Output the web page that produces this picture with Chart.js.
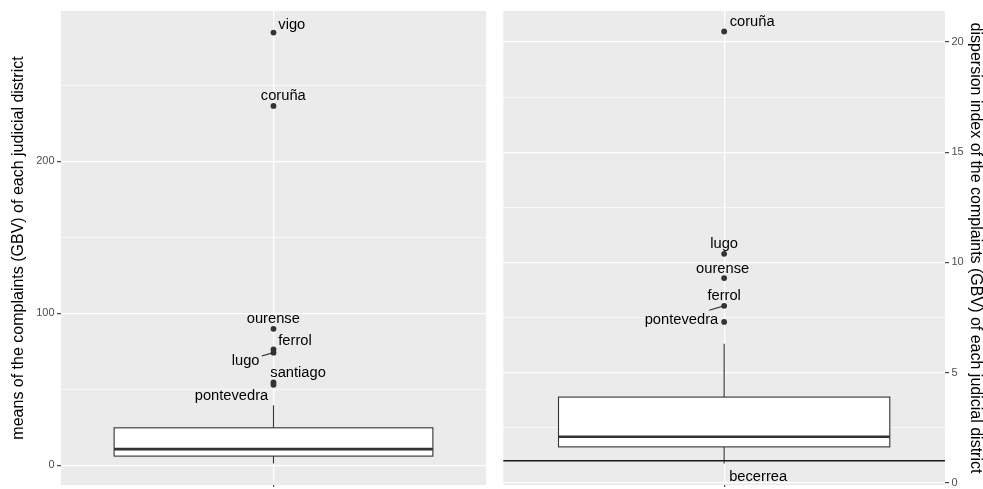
<!DOCTYPE html>
<html>
<head>
<meta charset="utf-8">
<script src="https://cdn.jsdelivr.net/npm/chart.js@4"></script>
<style>
  html, body { margin: 0; padding: 0; background: #fff; overflow: hidden; }
  #wrap { position: relative; width: 983px; height: 489px; }
  canvas { position: absolute; top: 0; }
</style>
</head>
<body>
<div id="wrap">
  <canvas id="left" width="490" height="489" style="left:0"></canvas>
  <canvas id="right" width="493" height="489" style="left:490px"></canvas>
</div>
<script>
// left panel: means of the complaints
const leftNames = ['vigo', 'coruña', 'ourense', 'ferrol', 'lugo', 'santiago', 'pontevedra'];
const leftValues = [284.6, 236.4, 89.8, 76.3, 74.1, 54.5, 53.0];
const leftStats = { lo: 1.3, q1: 6.1, med: 10.7, q3: 24.7, hi: 39.5 };
const leftTicks = [0, 100, 200];
const leftMinor = [50, 150, 250];

// right panel: dispersion index
const rightNames = ['coruña', 'lugo', 'ourense', 'ferrol', 'pontevedra', 'becerrea'];
const rightValues = [20.48, 10.39, 9.29, 8.03, 7.30, 0.87];
const rightStats = { lo: 0.87, q1: 1.63, med: 2.09, q3: 3.89, hi: 6.31 };
const rightTicks = [0, 5, 10, 15, 20];
const rightMinor = [2.5, 7.5, 12.5, 17.5];
const refValue = 1;

// label placement (pixel offsets from the point, like ggrepel did it)
const leftLabelPos = [
  { dx: 18.3, dy: -4 }, { dx: 9.8, dy: -6 }, { dx: -0.2, dy: -6.3 },
  { dx: 21.5, dy: -4.3 }, { dx: -27.9, dy: 12.4, seg: [-11.8, 3.3] },
  { dx: 24.6, dy: -6 }, { dx: -42, dy: 15 }
];
const rightLabelPos = [
  { dx: 28, dy: -5.6 }, { dx: 0, dy: -5.7 }, { dx: -1.5, dy: -5.3 },
  { dx: 0, dy: -5.6, seg: [-15, 4.4] }, { dx: -42.7, dy: 2.4 }, { dx: 34, dy: 17 }
];

const FONT = "'Liberation Sans', Arial, Helvetica, sans-serif";
Chart.defaults.font.family = FONT;
const BOX_W = 0.75;

const boxPlugin = {
  id: 'box',
  beforeDraw(chart) {
    const { ctx, chartArea: a } = chart;
    ctx.save();
    ctx.fillStyle = '#EBEBEB';
    ctx.fillRect(a.left, a.top, a.right - a.left, a.bottom - a.top);
    ctx.restore();
  },
  beforeDatasetsDraw(chart, args, opts) {
    const { ctx, chartArea: a, scales: { x, y } } = chart;
    const s = opts.stats;
    const xc = x.getPixelForValue(1);
    const xl = x.getPixelForValue(1 - BOX_W / 2);
    const xr = x.getPixelForValue(1 + BOX_W / 2);
    ctx.save();
    ctx.strokeStyle = '#333333';
    ctx.lineWidth = 1.1;
    // whiskers
    ctx.beginPath();
    ctx.moveTo(xc, y.getPixelForValue(s.q3));
    ctx.lineTo(xc, y.getPixelForValue(s.hi));
    ctx.moveTo(xc, y.getPixelForValue(s.q1));
    ctx.lineTo(xc, y.getPixelForValue(s.lo));
    ctx.stroke();
    // box
    const yt = y.getPixelForValue(s.q3), yb = y.getPixelForValue(s.q1);
    ctx.fillStyle = '#ffffff';
    ctx.fillRect(xl, yt, xr - xl, yb - yt);
    ctx.strokeRect(xl, yt, xr - xl, yb - yt);
    // median
    ctx.lineWidth = 2.6;
    ctx.beginPath();
    ctx.moveTo(xl, y.getPixelForValue(s.med));
    ctx.lineTo(xr, y.getPixelForValue(s.med));
    ctx.stroke();
    // reference line
    if (opts.ref != null) {
      const yr = y.getPixelForValue(opts.ref);
      ctx.strokeStyle = '#1a1a1a';
      ctx.lineWidth = 1.6;
      ctx.beginPath();
      ctx.moveTo(a.left, yr);
      ctx.lineTo(a.right, yr);
      ctx.stroke();
    }
    ctx.restore();
  },
  afterDatasetsDraw(chart, args, opts) {
    const { ctx, scales: { x, y } } = chart;
    ctx.save();
    ctx.font = '14.7px ' + FONT;
    ctx.textAlign = 'center';
    ctx.textBaseline = 'alphabetic';
    opts.names.forEach((name, i) => {
      const px = x.getPixelForValue(1);
      const py = y.getPixelForValue(opts.values[i]);
      const p = opts.pos[i];
      if (p.seg) {
        ctx.strokeStyle = '#333333';
        ctx.lineWidth = 1.2;
        ctx.beginPath();
        ctx.moveTo(px + p.seg[0], py + p.seg[1]);
        ctx.lineTo(px, py);
        ctx.stroke();
      }
      ctx.fillStyle = '#000000';
      ctx.fillText(name, px + p.dx, py + p.dy);
    });
    ctx.restore();
  }
};

function makePanel(id, o) {
  const allTicks = o.ticks.concat(o.minor).sort((a, b) => a - b);
  const isMajor = v => o.ticks.includes(v);
  const s = o.stats;
  return new Chart(document.getElementById(id), {
    type: 'scatter',
    data: {
      datasets: [{
        data: o.values.map(v => ({ x: 1, y: v })),
        pointRadius: ctx => {
          const v = o.values[ctx.dataIndex];
          return (v > s.hi || v < s.lo) ? 2.9 : 0;
        },
        pointBackgroundColor: '#333333',
        pointBorderWidth: 0,
        clip: false
      }]
    },
    options: {
      responsive: false,
      animation: false,
      devicePixelRatio: 1,
      layout: { padding: o.padding },
      events: [],
      plugins: {
        legend: { display: false },
        tooltip: { enabled: false },
        box: { stats: s, names: o.names, values: o.values, pos: o.pos, ref: o.ref }
      },
      scales: {
        x: {
          type: 'linear',
          min: 0.5,
          max: 1.5,
          afterBuildTicks: sc => { sc.ticks = [{ value: 1 }]; },
          afterFit: sc => { sc.height = 2; sc.paddingLeft = 0; sc.paddingRight = 0; },
          ticks: { display: false },
          grid: { color: '#ffffff', lineWidth: 1.3, tickColor: '#333333', tickLength: 2, tickWidth: 1.1 },
          border: { display: false }
        },
        y: {
          type: 'linear',
          position: o.position,
          min: o.min,
          max: o.max,
          afterBuildTicks: sc => { sc.ticks = allTicks.map(v => ({ value: v })); },
          afterFit: sc => { sc.width = o.axisWidth; sc.paddingTop = 0; sc.paddingBottom = 0; },
          ticks: {
            padding: 2.5,
            color: '#4D4D4D',
            font: { size: 11 },
            callback: v => isMajor(v) ? String(v) : ''
          },
          grid: {
            color: '#ffffff',
            lineWidth: ctx => isMajor(ctx.tick.value) ? 1.3 : 0.65,
            tickColor: ctx => isMajor(ctx.tick.value) ? '#333333' : 'rgba(0,0,0,0)',
            tickLength: 4,
            tickWidth: 1.1
          },
          border: { display: false },
          title: {
            display: true,
            text: o.title,
            color: '#000000',
            font: { size: 16 },
            padding: { top: o.titlePad, bottom: 0 }
          }
        }
      }
    },
    plugins: [boxPlugin]
  });
}

makePanel('left', {
  names: leftNames, values: leftValues, stats: leftStats, pos: leftLabelPos,
  ticks: leftTicks, minor: leftMinor, min: -12.9, max: 298.8,
  position: 'left', axisWidth: 61, titlePad: 9.4,
  padding: { top: 11, left: 0, right: 1.5, bottom: 0 },
  title: 'means of the complaints (GBV) of each judicial district'
});

makePanel('right', {
  names: rightNames, values: rightValues, stats: rightStats, pos: rightLabelPos,
  ticks: rightTicks, minor: rightMinor, min: -0.1, max: 21.41, ref: refValue,
  position: 'right', axisWidth: 38, titlePad: -1.6,
  padding: { top: 11, left: 13.3, right: 0, bottom: 0 },
  title: 'dispersion index of the complaints (GBV) of each judicial district'
});
</script>
</body>
</html>
